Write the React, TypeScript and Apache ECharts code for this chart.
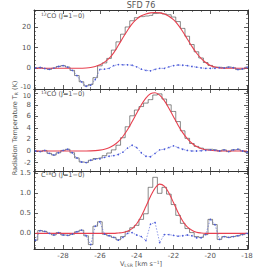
import React, { useEffect, useRef } from 'react';
import * as echarts from 'echarts';

// Channel velocities (km/s)
const velocity = [
  -29.5, -29.25, -29, -28.75, -28.5, -28.25, -28, -27.75, -27.5, -27.25, -27, -26.75,
  -26.5, -26.25, -26, -25.75, -25.5, -25.25, -25, -24.75, -24.5, -24.25, -24, -23.75,
  -23.5, -23.25, -23, -22.75, -22.5, -22.25, -22, -21.75, -21.5, -21.25, -21, -20.75,
  -20.5, -20.25, -20, -19.75, -19.5, -19.25, -19, -18.75, -18.5, -18.25, -18,
];

// 12CO (J=1-0)
const co12Obs = [
  0.2, 0.4, -0.1, -0.5, 0.1, 0.9, 1.3, 0.6, -1.0, -3.5, -6.5, -8.5,
  -7.8, -4.5, 1.2, 2.6, 4.8, 8.8, 12.8, 16.5, 20.0, 23.0, 24.5, 25.0,
  25.3, 25.6, 26.5, 26.8, 26.3, 25.9, 24.8, 22.6, 19.3, 15.5, 11.5, 8.0,
  5.0, 2.8, 1.4, 0.6, 0.5, 0.2, 0.6, 0.3, -0.6, -0.3, 0.5,
];
const co12Fit = [
  0, 0, 0, 0, 0, 0, 0, 0, 0, 0, 0.05, 0.15,
  0.4, 0.9, 1.7, 3.0, 4.8, 7.5, 11.0, 14.8, 18.3, 21.5, 23.8, 25.4,
  26.3, 26.8, 27.0, 26.8, 26.3, 25.2, 23.5, 21.0, 17.8, 14.2, 10.6, 7.4,
  4.8, 2.8, 1.4, 0.6, 0.2, 0.05, 0, 0, 0, 0, 0,
];
const co12Res = [
  0.2, 0.4, -0.1, -0.5, 0.1, 0.9, 1.3, 0.6, -1.0, -3.5, -6.55, -8.65,
  -8.2, -5.4, -0.5, -0.4, 0.0, 1.3, 1.8, 1.7, 1.7, 1.5, 0.7, -0.4,
  -1.0, -1.2, -0.5, 0.0, 0.0, 0.7, 1.3, 1.6, 1.5, 1.3, 0.9, 0.6,
  0.2, 0.0, 0.0, 0.0, 0.3, 0.15, 0.6, 0.3, -0.6, -0.3, 0.5,
];

// 13CO (J=1-0)
const co13Obs = [
  0.0, -0.1, 0.1, -0.4, -0.7, -0.3, 0.1, 0.3, -0.3, -1.2, -1.9, -2.0,
  -1.6, -1.3, -1.2, -0.8, -0.35, 0.2, 1.0, 2.3, 4.2, 6.1, 7.1, 7.7,
  8.3, 8.9, 9.7, 9.9, 9.0, 8.0, 6.85, 5.1, 3.5, 2.2, 1.3, 0.8,
  0.5, 0.3, 0.3, 0.2, 0.0, 0.2, -0.1, 0.2, 0.3, 0.0, -0.2,
];
const co13Fit = [
  0, 0, 0, 0, 0, 0, 0, 0, 0, 0, 0, 0.01,
  0.03, 0.07, 0.15, 0.3, 0.56, 0.99, 1.62, 2.52, 3.67, 5.06, 6.54, 7.98,
  9.16, 9.91, 10.09, 9.67, 8.73, 7.42, 5.95, 4.48, 3.18, 2.13, 1.34, 0.79,
  0.44, 0.23, 0.12, 0.05, 0.02, 0, 0, 0, 0, 0, 0,
];
const co13Res = [
  0.0, -0.1, 0.1, -0.4, -0.7, -0.3, 0.1, 0.3, -0.3, -1.2, -1.9, -2.0,
  -1.6, -1.4, -1.35, -1.1, -0.9, -0.8, -0.6, -0.2, 0.5, 1.0, 0.6, -0.3,
  -0.9, -1.0, -0.4, 0.2, 0.3, 0.6, 0.9, 0.6, 0.3, 0.1, 0.0, 0.0,
  0.05, 0.1, 0.2, 0.15, 0.0, 0.2, -0.1, 0.2, 0.3, 0.0, -0.2,
];

// C18O (J=1-0)
const c18oObs = [
  -0.17, 0.07, 0.05, 0.0, -0.04, 0.02, -0.04, -0.05, -0.02, 0.04, 0.08, -0.06,
  -0.28, 0.18, 0.29, -0.02, -0.06, -0.1, -0.16, -0.08, 0.05, 0.14, 0.2, 0.35,
  0.49, 1.15, 1.4, 1.0, 1.15, 0.98, 0.72, 0.45, 0.25, 0.12, 0.02, -0.08,
  -0.1, -0.03, 0.35, 0.22, -0.15, -0.08, -0.1, -0.08, -0.06, -0.03, 0.0,
];
const c18oFit = [
  0, 0, 0, 0, 0, 0, 0, 0, 0, 0, 0, 0,
  0, 0, 0, 0, 0, 0, 0.01, 0.02, 0.055, 0.12, 0.24, 0.43,
  0.67, 0.92, 1.13, 1.23, 1.18, 1.01, 0.77, 0.52, 0.31, 0.16, 0.08, 0.03,
  0.01, 0, 0, 0, 0, 0, 0, 0, 0, 0, 0,
];
const c18oRes = [
  -0.17, 0.07, 0.05, 0.0, -0.04, 0.02, -0.04, -0.05, -0.02, 0.04, 0.08, -0.06,
  -0.28, 0.18, 0.29, -0.02, -0.06, -0.1, -0.17, -0.1, 0.0, 0.02, -0.04, -0.08,
  -0.18, 0.23, 0.27, -0.23, -0.03, -0.03, -0.05, -0.07, -0.06, -0.04, -0.06, -0.11,
  -0.11, -0.03, 0.35, 0.22, -0.15, -0.08, -0.1, -0.08, -0.06, -0.03, 0.0,
];

const panelLabels = ['{sup|12}CO (J=1\u22120)', '{sup|13}CO (J=1\u22120)', 'C{sup|18}O (J=1\u22120)'];
const yTickSteps = [10, 2, 0.5];
const yMins = [-10, -3.46, -0.39];
const yMaxs = [28.2, 10.74, 1.5575];
const xTickStep = 2;
const xMin = -29.58;
const xMax = -17.95;
const titleText = 'SFD 76';
const yTitle = 'Radiation Temperature T{sub|R} (K)';
const xTitle = 'V{sub|LSR} [km s{sup|\u22121}]';

const panels = [
  { obs: co12Obs, fit: co12Fit, res: co12Res },
  { obs: co13Obs, fit: co13Fit, res: co13Res },
  { obs: c18oObs, fit: c18oFit, res: c18oRes },
];

const AXIS_COLOR = '#333';
const TEXT_COLOR = '#555';
const FONT = 'DejaVu Sans, sans-serif';

const zip = (ys: number[]) => velocity.map((v, i) => [v, ys[i]]);

const isMultiple = (v: number, step: number) => Math.abs(v / step - Math.round(v / step)) < 1e-6;

export default function App() {
  const ref = useRef<HTMLDivElement>(null);
  useEffect(() => {
    if (!ref.current) return;
    const chart = echarts.init(ref.current, undefined, { renderer: 'svg' });

    const gridTops = [10, 89, 171];
    const gridHeights = [79, 82, 78];
    const grid = gridTops.map((t, i) => ({ left: 34, width: 214, top: t, height: gridHeights[i] }));

    const xAxis: any[] = [];
    const yAxis: any[] = [];
    const series: any[] = [];

    panels.forEach((p, i) => {
      ['bottom', 'top'].forEach((pos) => {
        xAxis.push({
          type: 'value',
          gridIndex: i,
          position: pos,
          min: xMin,
          max: xMax,
          minInterval: xTickStep,
          maxInterval: xTickStep,
          splitNumber: 6,
          axisLine: { show: true, onZero: false, lineStyle: { color: AXIS_COLOR, width: 1 } },
          axisTick: { show: true, inside: true, length: 4, lineStyle: { color: AXIS_COLOR, width: 0.8 } },
          minorTick: { show: true, splitNumber: 4, length: 2, lineStyle: { color: AXIS_COLOR, width: 0.6 } },
          splitLine: { show: false },
          axisLabel: {
            show: i === 2 && pos === 'bottom',
            fontSize: 7,
            color: TEXT_COLOR,
            fontFamily: FONT,
            margin: 3,
            showMinLabel: false,
            showMaxLabel: false,
            formatter: (v: number) => (isMultiple(v, xTickStep) ? String(Math.round(v)) : ''),
          },
        });
      });
      ['left', 'right'].forEach((pos) => {
        const step = yTickSteps[i];
        yAxis.push({
          type: 'value',
          gridIndex: i,
          position: pos,
          min: yMins[i],
          max: yMaxs[i],
          minInterval: step,
          maxInterval: step,
          splitNumber: Math.round((yMaxs[i] - yMins[i]) / step),
          axisLine: { show: true, onZero: false, lineStyle: { color: AXIS_COLOR, width: 1 } },
          axisTick: { show: true, inside: true, length: 4, lineStyle: { color: AXIS_COLOR, width: 0.8 } },
          minorTick: { show: true, splitNumber: 5, length: 2, lineStyle: { color: AXIS_COLOR, width: 0.6 } },
          splitLine: { show: false },
          axisLabel: {
            show: pos === 'left',
            fontSize: 7,
            color: TEXT_COLOR,
            fontFamily: FONT,
            margin: 3,
            rich: {
              up: { fontSize: 6.5, color: TEXT_COLOR, fontFamily: FONT, padding: [0, 0, 5, 0] },
              dn: { fontSize: 6.5, color: TEXT_COLOR, fontFamily: FONT, padding: [5, 0, 0, 0] },
            },
            formatter: (v: number) => {
              if (!isMultiple(v, step)) return '';
              const s = step < 1 ? v.toFixed(1) : String(Math.round(v));
              if (i === 0 && Math.abs(v - yMins[0]) < 1e-6) return '{up|' + s + '}';
              if (i === 1 && Math.abs(v - 10) < 1e-6) return '{dn|' + s + '}';
              return s;
            },
          },
        });
      });

      series.push({
        type: 'line',
        xAxisIndex: 2 * i,
        yAxisIndex: 2 * i,
        data: zip(p.obs),
        step: 'middle',
        symbol: 'none',
        lineStyle: { color: '#3a3a3a', width: 0.6 },
        z: 2,
      });
      series.push({
        type: 'line',
        xAxisIndex: 2 * i,
        yAxisIndex: 2 * i,
        data: zip(p.fit),
        smooth: 0.35,
        symbol: 'none',
        lineStyle: { color: '#e8404f', width: 1.1 },
        z: 3,
      });
      series.push({
        type: 'line',
        xAxisIndex: 2 * i,
        yAxisIndex: 2 * i,
        data: zip(p.res),
        symbol: 'circle',
        symbolSize: 1.6,
        itemStyle: { color: '#4a5ad8' },
        lineStyle: { color: '#4a5ad8', width: 0.6, type: [1.5, 1.5] },
        z: 4,
      });
    });

    const graphic: any[] = [
      {
        type: 'text',
        x: 141,
        y: 5,
        style: { text: titleText, fontSize: 8, fill: TEXT_COLOR, fontFamily: FONT, align: 'center', verticalAlign: 'middle' },
      },
      {
        type: 'text',
        x: 15,
        y: 128,
        rotation: Math.PI / 2,
        style: {
          text: yTitle,
          fontSize: 6.5,
          fill: TEXT_COLOR,
          fontFamily: FONT,
          align: 'center',
          verticalAlign: 'middle',
          rich: { sub: { fontSize: 4.5, fill: TEXT_COLOR, fontFamily: FONT, padding: [3, 0, 0, 0] } },
        },
      },
      {
        type: 'text',
        x: 141,
        y: 264,
        style: {
          text: xTitle,
          fontSize: 6.5,
          fill: TEXT_COLOR,
          fontFamily: FONT,
          align: 'center',
          verticalAlign: 'middle',
          rich: {
            sub: { fontSize: 4.5, fill: TEXT_COLOR, fontFamily: FONT, padding: [3, 0, 0, 0] },
            sup: { fontSize: 4.5, fill: TEXT_COLOR, fontFamily: FONT, padding: [0, 0, 3, 0] },
          },
        },
      },
    ];
    const labelYs = [16, 94, 175];
    panelLabels.forEach((lab, i) => {
      graphic.push({
        type: 'text',
        x: 41,
        y: labelYs[i],
        style: {
          text: lab,
          fontSize: 6.5,
          fill: TEXT_COLOR,
          fontFamily: FONT,
          align: 'left',
          verticalAlign: 'middle',
          rich: { sup: { fontSize: 4.5, fill: TEXT_COLOR, fontFamily: FONT, padding: [0, 0, 3, 0] } },
        },
      });
    });

    chart.setOption({
      animation: false,
      backgroundColor: '#fff',
      grid,
      xAxis,
      yAxis,
      series,
      graphic,
    });
    return () => chart.dispose();
  }, []);

  return (
    <div
      ref={ref}
      style={{ position: 'absolute', left: 0, top: 0, width: 258, height: 269, background: '#fff' }}
    />
  );
}
